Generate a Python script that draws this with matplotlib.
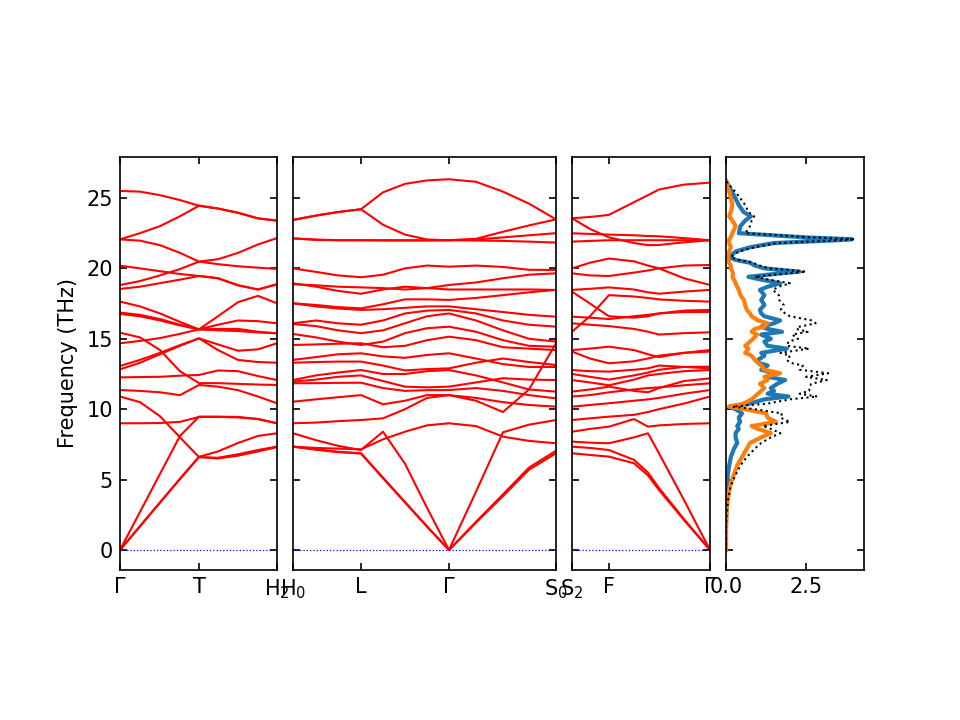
import numpy as np
import matplotlib
matplotlib.use("Agg")
import matplotlib.pyplot as plt

# ---------------- band structure data ----------------
# k-path distances (arbitrary units) of the sampled points along each segment
k_seg1 = [0, 20, 40, 60, 79, 98, 118, 138, 157]
ticks_seg1 = [0, 79, 157]
labels_seg1 = ["Γ", "T", "H$_2$"]

k_seg2 = [0, 23, 45, 68, 90, 112, 134, 156, 183, 210, 236, 263]
ticks_seg2 = [0, 68, 156, 263]
labels_seg2 = ["H$_0$", "L", "Γ", "S$_0$"]

k_seg3 = [0, 18, 37, 62, 76, 87, 112, 138]
ticks_seg3 = [0, 37, 138]
labels_seg3 = ["S$_2$", "F", "Γ"]

# frequencies (THz) of each band at the sampled k points
bands_seg1 = [
    [0, 1.68, 3.36, 5.04, 6.6, 6.55, 6.8, 7.1, 7.35],
    [0, 1.69, 3.38, 5.06, 6.62, 7.0, 7.6, 8.1, 8.29],
    [0, 2.7, 5.4, 8.1, 9.47, 9.47, 9.45, 9.3, 9.0],
    [9.0, 9.0, 9.02, 9.1, 9.45, 9.45, 9.42, 9.3, 9.0],
    [10.9, 10.5, 9.5, 8.0, 6.6, 6.5, 6.7, 7.0, 7.3],
    [11.36, 11.3, 11.2, 11.0, 11.72, 11.6, 11.35, 10.9, 10.42],
    [12.26, 12.28, 12.3, 12.38, 12.43, 12.75, 12.7, 12.35, 12.07],
    [12.83, 13.3, 13.9, 14.5, 15.03, 14.6, 14.15, 14.25, 14.68],
    [13.07, 13.5, 14.0, 14.55, 15.03, 14.2, 13.5, 13.35, 13.3],
    [14.68, 14.85, 15.05, 15.35, 15.67, 16.0, 16.3, 16.25, 16.1],
    [15.43, 15.1, 14.2, 12.7, 11.85, 11.85, 11.8, 11.75, 11.72],
    [16.86, 16.7, 16.4, 16.0, 15.67, 15.6, 15.55, 15.45, 15.39],
    [16.76, 16.6, 16.3, 15.95, 15.67, 15.7, 15.7, 15.5, 15.39],
    [17.64, 17.3, 16.8, 16.2, 15.67, 16.6, 17.6, 18.05, 17.52],
    [18.54, 18.7, 18.95, 19.2, 19.46, 19.3, 18.8, 18.5, 18.87],
    [18.82, 19.1, 19.5, 19.95, 20.48, 20.3, 20.15, 20.05, 19.96],
    [20.19, 20.0, 19.8, 19.6, 19.46, 19.3, 18.8, 18.5, 18.87],
    [22.06, 21.97, 21.65, 21.1, 20.48, 20.65, 21.1, 21.7, 22.15],
    [22.06, 22.5, 23.0, 23.7, 24.45, 24.25, 23.95, 23.55, 23.39],
    [25.5, 25.45, 25.2, 24.85, 24.45, 24.25, 23.95, 23.55, 23.39],
]

bands_seg2 = [
    [7.34, 7.15, 6.98, 6.87, 5.14, 3.41, 1.68, 0, 1.94, 3.83, 5.7, 6.87],
    [7.34, 7.12, 6.95, 6.85, 5.1, 3.38, 1.66, 0, 2.0, 3.95, 5.85, 7.05],
    [8.29, 7.8, 7.4, 7.1, 8.4, 6.13, 3.0, 0, 4.14, 8.36, 8.9, 9.23],
    [7.34, 7.25, 7.2, 7.15, 7.86, 8.4, 8.85, 9.0, 8.8, 8.05, 7.75, 7.58],
    [9.0, 9.05, 9.15, 9.23, 9.35, 10.0, 10.8, 11.0, 10.6, 9.8, 11.4, 14.68],
    [10.53, 10.7, 10.85, 11.0, 10.35, 10.6, 11.0, 11.0, 10.8, 10.5, 10.3, 10.18],
    [11.84, 11.85, 11.87, 11.88, 11.5, 11.3, 11.35, 11.36, 11.5, 11.3, 11.0, 10.77],
    [11.96, 12.1, 12.3, 12.4, 12.0, 11.6, 11.55, 11.6, 11.9, 12.2, 12.1, 12.07],
    [12.07, 12.4, 12.6, 12.78, 12.5, 12.5, 12.7, 12.78, 12.4, 11.9, 11.4, 11.25],
    [13.3, 13.35, 13.38, 13.38, 13.1, 12.75, 12.85, 12.9, 13.3, 13.6, 13.35, 13.14],
    [13.5, 13.7, 13.9, 13.97, 13.75, 13.65, 13.85, 13.97, 13.6, 13.2, 13.0, 13.0],
    [14.56, 14.6, 14.65, 14.68, 14.4, 14.5, 14.9, 15.15, 14.9, 14.4, 14.3, 14.2],
    [15.34, 15.1, 14.8, 14.56, 14.8, 15.4, 15.75, 15.86, 15.5, 14.9, 14.5, 14.44],
    [16.05, 15.9, 15.6, 15.4, 15.6, 16.1, 16.6, 16.8, 16.3, 15.6, 15.0, 14.8],
    [16.1, 16.3, 16.1, 16.0, 16.3, 16.8, 17.0, 17.05, 16.8, 16.3, 16.0, 15.86],
    [17.52, 17.3, 17.15, 17.05, 17.1, 17.2, 17.3, 17.3, 17.1, 16.9, 16.7, 16.57],
    [17.52, 17.4, 17.25, 17.16, 17.45, 17.8, 17.8, 17.76, 17.9, 18.1, 18.3, 18.47],
    [18.87, 18.8, 18.7, 18.65, 18.6, 18.5, 18.6, 18.82, 19.0, 19.3, 19.55, 19.65],
    [18.94, 18.7, 18.4, 18.2, 18.5, 18.7, 18.6, 18.5, 18.5, 18.5, 18.5, 18.47],
    [20.0, 19.75, 19.5, 19.37, 19.55, 20.0, 20.2, 20.12, 20.2, 20.1, 19.9, 19.89],
    [22.13, 22.02, 22.0, 22.0, 22.0, 22.0, 22.0, 22.0, 22.05, 22.2, 22.35, 22.5],
    [22.13, 22.05, 22.0, 22.0, 21.98, 21.98, 21.98, 22.0, 21.98, 21.95, 21.9, 21.83],
    [23.44, 23.75, 24.0, 24.2, 23.1, 22.4, 22.05, 22.0, 22.1, 22.6, 23.05, 23.48],
    [23.44, 23.75, 24.0, 24.2, 25.4, 26.0, 26.25, 26.33, 26.15, 25.45, 24.6, 23.48],
]

bands_seg3 = [
    [6.87, 6.75, 6.63, 6.16, 5.3, 4.26, 2.13, 0],
    [7.34, 7.25, 7.1, 6.4, 5.5, 4.4, 2.2, 0],
    [7.7, 7.62, 7.58, 8.0, 8.29, 6.87, 3.55, 0],
    [8.4, 8.6, 8.76, 9.3, 8.76, 8.85, 8.95, 9.0],
    [9.23, 9.35, 9.47, 9.6, 9.8, 10.0, 10.4, 10.9],
    [10.18, 10.3, 10.42, 10.6, 10.7, 10.8, 11.1, 11.36],
    [10.9, 11.0, 11.2, 11.4, 11.5, 11.55, 11.7, 11.84],
    [11.25, 11.4, 11.6, 11.3, 11.2, 11.5, 12.0, 12.19],
    [12.07, 11.9, 11.7, 12.1, 12.4, 12.5, 12.7, 12.78],
    [12.5, 12.3, 12.1, 12.4, 12.6, 12.8, 13.0, 13.02],
    [12.78, 12.7, 12.67, 12.8, 12.9, 13.1, 13.0, 12.9],
    [14.09, 13.6, 13.26, 13.4, 13.6, 13.8, 14.0, 14.09],
    [14.2, 14.3, 14.44, 14.2, 13.9, 13.7, 14.0, 14.2],
    [15.5, 16.6, 18.1, 18.0, 17.9, 17.8, 17.7, 17.64],
    [16.1, 16.0, 15.9, 15.7, 15.5, 15.3, 15.4, 15.46],
    [16.57, 16.5, 16.4, 16.6, 16.7, 16.8, 16.9, 16.9],
    [18.35, 17.5, 16.6, 16.5, 16.6, 16.8, 17.0, 17.05],
    [18.47, 18.55, 18.65, 18.5, 18.3, 18.2, 18.35, 18.47],
    [19.65, 19.5, 19.46, 19.7, 19.85, 20.0, 20.2, 20.24],
    [20.0, 20.4, 20.7, 20.5, 20.2, 20.0, 19.3, 18.82],
    [21.9, 21.95, 22.0, 22.0, 22.0, 22.0, 22.0, 22.0],
    [22.49, 22.45, 22.4, 22.35, 22.3, 22.28, 22.15, 22.0],
    [23.56, 22.8, 22.2, 21.8, 21.65, 21.66, 21.85, 22.0],
    [23.56, 23.65, 23.8, 24.7, 25.2, 25.6, 25.95, 26.09],
]

# ---------------- density of states data ----------------
dos_freq = [0, 1.5, 2.5, 3.5, 4.5, 5.2, 6.0, 6.6, 7.2, 7.6, 8.0, 8.3, 8.6, 8.8,
            9.1, 9.4, 9.7, 10.0, 10.18, 10.4, 10.7, 10.9, 11.1, 11.3, 11.5, 11.8,
            12.07, 12.3, 12.55, 12.8, 13.1, 13.3, 13.5, 13.8, 14.0, 14.3, 14.5,
            14.8, 15.0, 15.3, 15.5, 15.7, 15.86, 16.1, 16.3, 16.6, 16.8, 17.05,
            17.4, 17.76, 18.1, 18.47, 18.7, 18.94, 19.2, 19.4, 19.6, 19.77, 20.0,
            20.2, 20.4, 20.6, 20.8, 21.2, 21.5, 21.8, 22.0, 22.07, 22.2, 22.5,
            23.0, 23.4, 23.7, 24.0, 24.5, 25.3, 26.2]
dos_blue = [0, 0, 0.0, 0.01, 0.02, 0.05, 0.1, 0.15, 0.25, 0.35, 0.3, 0.3, 0.4, 0.35,
            0.44, 0.4, 0.5, 0.3, 0.1, 0.75, 1.2, 1.95, 1.3, 1.5, 1.4, 1.6,
            1.85, 1.3, 1.5, 1.1, 1.3, 1.0, 1.0, 1.2, 1.1, 1.9, 1.3,
            1.2, 1.4, 1.1, 1.75, 1.3, 1.1, 1.5, 1.69, 1.2, 1.1, 1.06,
            1.2, 1.1, 1.2, 1.06, 1.3, 1.7, 1.1, 0.7, 1.5, 2.3, 1.2,
            0.9, 0.75, 0.3, 0.1, 0.3, 0.75, 1.5, 3.5, 3.93, 2.5, 0.4,
            0.45, 0.6, 0.78, 0.55, 0.4, 0.22, 0]
dos_orange = [0, 0.0, 0.02, 0.05, 0.12, 0.22, 0.35, 0.5, 0.65, 0.75, 1.1, 1.4, 1.0, 0.8,
              1.56, 1.3, 1.25, 0.6, 0.1, 0.55, 0.8, 0.9, 1.0, 1.1, 1.2, 1.06,
              1.3, 1.2, 1.69, 1.2, 1.1, 1.0, 0.9, 0.8, 0.6, 0.7, 0.6,
              0.75, 0.85, 0.97, 0.8, 0.9, 1.2, 1.3, 1.0, 0.8, 0.75, 0.65,
              0.6, 0.56, 0.45, 0.4, 0.35, 0.3, 0.25, 0.2, 0.22, 0.2, 0.15,
              0.15, 0.1, 0.08, 0.05, 0.1, 0.15, 0.1, 0.1, 0.1, 0.15, 0.2,
              0.3, 0.2, 0.1, 0.15, 0.2, 0.12, 0]
dos_total = list(np.array(dos_blue) + np.array(dos_orange))

yticks = [0, 5, 10, 15, 20, 25]
ylim = (-1.42, 27.91)

# ---------------- figure ----------------
fig = plt.figure(figsize=(6.4, 4.8), dpi=150)
bottom, height = 150 / 720, 413 / 720
panels = [
    (120, 157, k_seg1, bands_seg1, ticks_seg1, labels_seg1),
    (293, 263, k_seg2, bands_seg2, ticks_seg2, labels_seg2),
    (572, 138, k_seg3, bands_seg3, ticks_seg3, labels_seg3),
]
for i, (x0, w, ks, bands, tks, lbls) in enumerate(panels):
    ax = fig.add_axes([x0 / 960, bottom, w / 960, height])
    for b in bands:
        ax.plot(ks, b, color="red", lw=1.0)
    ax.axhline(0, color="blue", ls=":", lw=0.6)
    ax.set_xlim(ks[0], ks[-1])
    ax.set_ylim(*ylim)
    ax.set_xticks(tks)
    ax.set_xticklabels(lbls)
    ax.set_yticks(yticks)
    ax.tick_params(direction="in", top=True, right=True)
    if i == 0:
        ax.set_ylabel("Frequency (THz)")
    else:
        ax.tick_params(labelleft=False)

axd = fig.add_axes([726 / 960, bottom, 138 / 960, height])
axd.plot(dos_blue, dos_freq, color="#1f77b4", lw=2.0)
axd.plot(dos_orange, dos_freq, color="#ff7f0e", lw=2.0)
axd.plot(dos_total, dos_freq, color="black", ls=":", lw=1.0)
axd.set_ylim(*ylim)
axd.set_xlim(0, 4.31)
axd.set_xticks([0, 2.5])
axd.set_xticklabels(["0.0", "2.5"])
axd.set_yticks(yticks)
axd.tick_params(direction="in", top=True, right=True, labelleft=False)

fig.savefig("out.png", dpi=150)
